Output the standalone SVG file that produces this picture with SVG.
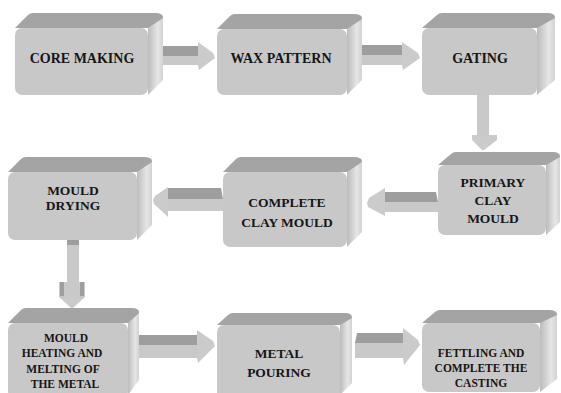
<svg xmlns="http://www.w3.org/2000/svg" width="561" height="393" viewBox="0 0 561 393">
<defs>
<linearGradient id="side" x1="0" y1="0" x2="1" y2="0">
<stop offset="0" stop-color="#bcbcbc"/>
<stop offset="0.65" stop-color="#e6e6e6"/>
<stop offset="1" stop-color="#d2d2d2"/>
</linearGradient>
</defs>
<style>
.top{fill:#a4a4a4}
.side{fill:url(#side)}
.front{fill:#c8c8c8}
.adark{fill:#9e9e9e}
.alight{fill:#c9c9c9}
.ahead{fill:#cbcbcb}
.t14{font-size:14px}
.t13{font-size:13.5px}
.t12{font-size:11.5px}
</style>
<rect width="561" height="393" fill="#ffffff"/>

<g id="connectors">
<g>
<polygon class="alight" points="148,56 198,56 198,65 148,65"/>
<polygon class="adark" points="150,46 198,46 198,56 148,56"/>
<polygon class="ahead" points="198,42 213,53 215,58 199,70 198,65 198,46"/>
</g>
<g>
<polygon class="alight" points="347,55 402,55 402,65 347,65"/>
<polygon class="adark" points="349,45 402,45 402,55 347,55"/>
<polygon class="ahead" points="402,42 418,53 420,58 403,70 402,65 402,45"/>
</g>
<g>
<rect class="alight" x="477" y="95" width="12" height="40"/>
<polygon class="ahead" points="472,135 497,135 497,140 484,150 482,150 472,140"/>
</g>
<g>
<polygon class="alight" points="385,202 438,202 438,212 385,212"/>
<polygon class="adark" points="385,192 436,192 438,202 385,202"/>
<polygon class="ahead" points="385,188 385,216 368,207 367,203 369,198"/>
</g>
<g>
<polygon class="alight" points="168,199 223,199 223,211 168,211"/>
<polygon class="adark" points="168,188 221,188 223,199 168,199"/>
<polygon class="ahead" points="168,187 168,217 154,204 153,200 155,196"/>
</g>
<g>
<rect class="alight" x="67" y="238" width="12" height="44"/>
<rect class="adark" x="67" y="238" width="12" height="7"/>
<rect class="alight" x="59" y="282" width="26" height="15"/>
<rect class="adark" x="60" y="282" width="4" height="14"/>
<rect class="adark" x="80" y="282" width="4" height="14"/>
<polygon class="ahead" points="59,297 85,297 73,308 71,308"/>
</g>
<g>
<polygon class="alight" points="137,345 197,345 197,358 137,358"/>
<polygon class="adark" points="139,335 197,335 197,345 137,345"/>
<polygon class="ahead" points="197,330 213,341 215,346 198,363 197,358 197,335"/>
</g>
<g>
<polygon class="alight" points="355,343 403,343 403,358 355,358"/>
<polygon class="adark" points="357,333 403,333 403,343 355,343"/>
<polygon class="ahead" points="403,328 418,340 420,345 404,365 403,358 403,333"/>
</g>
</g>

<g font-family="Liberation Serif, Times New Roman, serif" font-weight="bold" fill="#161616" text-anchor="middle">
<g id="core-making">
<path class="side" d="M148,28 L160,15 Q163,13 163,18 L163,80 L148,95 Z"/>
<path class="top" d="M15,28 L28,15 Q30,13 33,13 L155,13 Q163,13 163,18 L148,28 Z"/>
<rect class="front" x="15" y="28" width="133" height="67" rx="7"/>
<text class="t14" x="82" y="63">CORE MAKING</text>
</g>

<g id="wax-pattern">
<path class="side" d="M347,29 L359,16 Q362,14 362,19 L362,80 L347,95 Z"/>
<path class="top" d="M217,29 L230,16 Q232,14 235,14 L354,14 Q362,14 362,19 L347,29 Z"/>
<rect class="front" x="217" y="29" width="130" height="66" rx="7"/>
<text class="t14" x="281" y="63">WAX PATTERN</text>
</g>

<g id="gating">
<path class="side" d="M537,28 L552,15 Q555,13 555,18 L555,80 L537,95 Z"/>
<path class="top" d="M422,28 L437,15 Q439,13 442,13 L547,13 Q555,13 555,18 L537,28 Z"/>
<rect class="front" x="422" y="28" width="115" height="67" rx="7"/>
<text class="t14" x="480" y="63">GATING</text>
</g>

<g id="primary-clay-mould">
<path class="side" d="M546,165 L557,154 Q560,152 560,157 L560,222 L546,235 Z"/>
<path class="top" d="M438,165 L451,154 Q453,152 456,152 L553,152 Q560,152 560,157 L546,165 Z"/>
<rect class="front" x="438" y="165" width="108" height="70" rx="7"/>
<text class="t13" x="493" y="187">PRIMARY</text>
<text class="t13" x="493" y="205">CLAY</text>
<text class="t13" x="493" y="223">MOULD</text>
</g>

<g id="complete-clay-mould">
<path class="side" d="M347,172 L359,159 Q362,157 362,162 L362,232 L347,247 Z"/>
<path class="top" d="M223,172 L236,159 Q238,157 241,157 L354,157 Q362,157 362,162 L347,172 Z"/>
<rect class="front" x="223" y="172" width="124" height="75" rx="7"/>
<text class="t13" x="287" y="207">COMPLETE</text>
<text class="t13" x="287" y="227">CLAY MOULD</text>
</g>

<g id="mould-drying">
<path class="side" d="M137,172 L149,159 Q152,157 152,162 L152,225 L137,240 Z"/>
<path class="top" d="M8,172 L21,159 Q23,157 26,157 L144,157 Q152,157 152,162 L137,172 Z"/>
<rect class="front" x="8" y="172" width="129" height="68" rx="7"/>
<text class="t13" x="73" y="195">MOULD</text>
<text class="t13" x="73" y="210">DRYING</text>
</g>

<g id="mould-heating">
<path class="side" d="M128,323 L136,310 Q139,308 139,313 L139,380 L128,395 Z"/>
<path class="top" d="M8,323 L21,310 Q23,308 26,308 L132,308 Q139,308 139,313 L128,323 Z"/>
<rect class="front" x="8" y="323" width="120" height="75" rx="7"/>
<text class="t12" x="66" y="342">MOULD</text>
<text class="t12" x="62" y="357">HEATING AND</text>
<text class="t12" x="63" y="373">MELTING OF</text>
<text class="t12" x="65" y="388">THE METAL</text>
</g>

<g id="metal-pouring">
<path class="side" d="M340,325 L349,315 Q352,313 352,318 L352,383 L340,395 Z"/>
<path class="top" d="M217,325 L228,315 Q230,313 233,313 L345,313 Q352,313 352,318 L340,325 Z"/>
<rect class="front" x="217" y="325" width="123" height="75" rx="7"/>
<text class="t13" x="279" y="358">METAL</text>
<text class="t13" x="279" y="377">POURING</text>
</g>

<g id="fettling">
<path class="side" d="M540,323 L554,312 Q557,310 557,315 L557,379 L540,392 Z"/>
<path class="top" d="M422,323 L435,312 Q437,310 440,310 L549,310 Q557,310 557,315 L540,323 Z"/>
<rect class="front" x="422" y="323" width="118" height="69" rx="7"/>
<text class="t12" x="481" y="357">FETTLING AND</text>
<text class="t12" x="481" y="372">COMPLETE THE</text>
<text class="t12" x="481" y="387">CASTING</text>
</g>
</g>
</svg>
